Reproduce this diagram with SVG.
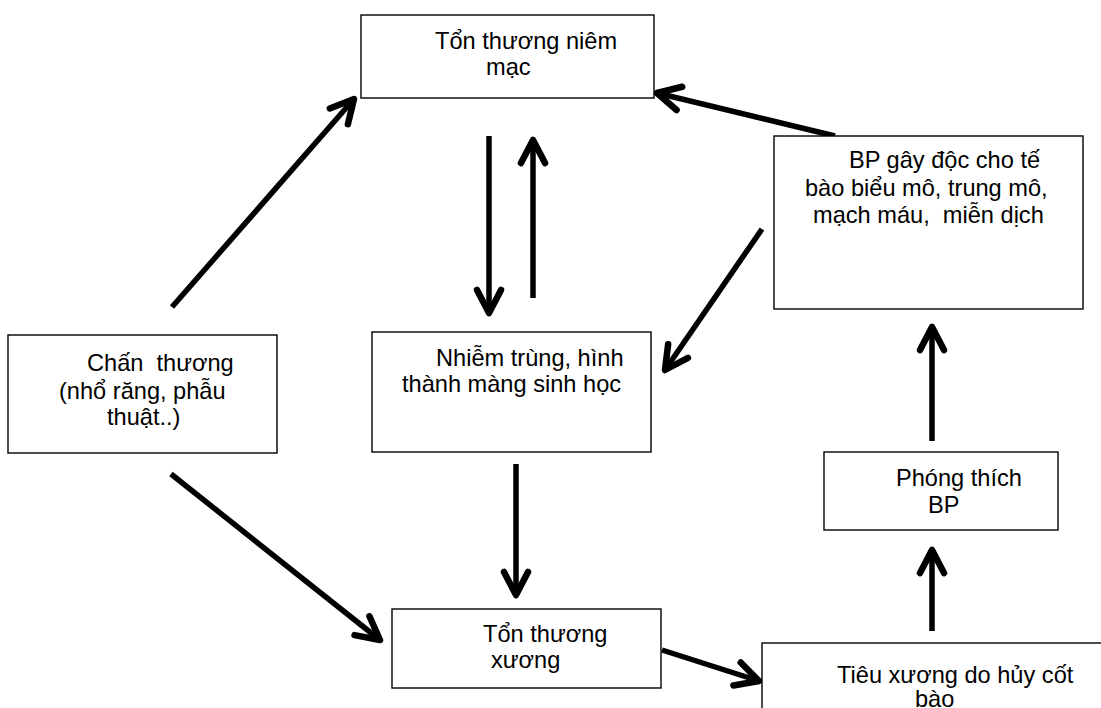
<svg xmlns="http://www.w3.org/2000/svg" width="1101" height="708" viewBox="0 0 1101 708">
<style>
.box{fill:#fff;stroke:#000;stroke-width:1.4}
.t{font-family:"Liberation Sans",Arial,sans-serif;font-size:23.6px;fill:#000;white-space:pre}
.c{fill:none;stroke:#000;stroke-width:5.5;marker-end:url(#ah)}
</style>
<defs>
<marker id="ah" markerUnits="userSpaceOnUse" markerWidth="60" markerHeight="60" viewBox="-30 -30 60 60" refX="0" refY="0" orient="auto" overflow="visible">
<path d="M-23,-12 L0,0 L-23,12" fill="none" stroke="#000" stroke-width="6.5" stroke-linecap="round" stroke-linejoin="round"/>
</marker>
</defs>
<rect width="1101" height="708" fill="#fff"/>
<g id="connectors">
<line class="c" x1="172" y1="307" x2="354" y2="99"/>
<line class="c" x1="489" y1="136" x2="489" y2="313"/>
<line class="c" x1="533" y1="298" x2="533" y2="140"/>
<line class="c" x1="835" y1="136" x2="657" y2="93"/>
<line class="c" x1="762" y1="229" x2="665" y2="370"/>
<line class="c" x1="171" y1="474" x2="380" y2="640"/>
<line class="c" x1="516" y1="464" x2="516" y2="595"/>
<line class="c" x1="662" y1="650" x2="759" y2="681"/>
<line class="c" x1="932" y1="631" x2="932" y2="550"/>
<line class="c" x1="932" y1="441" x2="932" y2="327"/>
</g>
<g id="n1">
<rect class="box" x="361" y="15" width="293" height="83"/>
<text class="t" xml:space="preserve"><tspan x="435" y="49">Tổn thương niêm</tspan><tspan x="486" y="75">mạc</tspan></text>
</g>
<g id="n2">
<rect class="box" x="774" y="136" width="309" height="173"/>
<text class="t" xml:space="preserve"><tspan x="849" y="168">BP gây độc cho tế</tspan><tspan x="805" y="196">bào biểu mô, trung mô,</tspan><tspan x="813" y="223">mạch máu,  miễn dịch</tspan></text>
</g>
<g id="n3">
<rect class="box" x="8" y="335" width="269" height="118"/>
<text class="t" xml:space="preserve"><tspan x="87" y="371">Chấn  thương</tspan><tspan x="59" y="399">(nhổ răng, phẫu</tspan><tspan x="107" y="425">thuật..)</tspan></text>
</g>
<g id="n4">
<rect class="box" x="372" y="332" width="279" height="120"/>
<text class="t" xml:space="preserve"><tspan x="436" y="366">Nhiễm trùng, hình</tspan><tspan x="402" y="392">thành màng sinh học</tspan></text>
</g>
<g id="n5">
<rect class="box" x="392" y="609" width="269" height="79"/>
<text class="t" xml:space="preserve"><tspan x="483" y="642">Tổn thương</tspan><tspan x="491" y="668">xương</tspan></text>
</g>
<g id="n6">
<rect class="box" x="824" y="452" width="234" height="78"/>
<text class="t" xml:space="preserve"><tspan x="896" y="486">Phóng thích</tspan><tspan x="928" y="513">BP</tspan></text>
</g>
<g id="n7">
<rect class="box" x="762" y="643" width="360" height="90"/>
<text class="t" xml:space="preserve"><tspan x="837" y="683">Tiêu xương do hủy cốt</tspan><tspan x="915" y="707">bào</tspan></text>
</g>
</svg>
